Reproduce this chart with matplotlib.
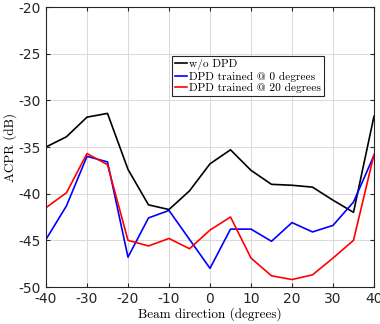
import numpy as np
import matplotlib
matplotlib.use("Agg")
import matplotlib.pyplot as plt

# beam angles in degrees
angles = [-40, -35, -30, -25, -20, -15, -10, -5, 0, 5, 10, 15, 20, 25, 30, 35, 40]

# ACPR (dB) for each configuration
acpr_no_dpd = [-35.0, -33.9, -31.8, -31.4, -37.4, -41.2, -41.7, -39.7, -36.8,
               -35.3, -37.5, -39.0, -39.1, -39.3, -40.7, -42.0, -31.7]
acpr_dpd_0 = [-44.9, -41.3, -36.0, -36.6, -46.8, -42.6, -41.8, -44.9, -48.0,
              -43.8, -43.8, -45.1, -43.1, -44.1, -43.4, -40.9, -35.9]
acpr_dpd_20 = [-41.5, -39.9, -35.7, -36.9, -45.0, -45.6, -44.8, -45.9, -43.9,
               -42.5, -46.9, -48.8, -49.2, -48.7, -46.9, -45.0, -35.8]

plt.rcParams['axes.unicode_minus'] = False
serif = ['cmr10', 'DejaVu Serif']

fig = plt.figure(figsize=(3.8, 3.24), dpi=100)
ax = fig.add_axes([46 / 380, 1 - 287 / 324, 328 / 380, 280 / 324])

ax.plot(angles, acpr_no_dpd, color='black', lw=1.2, label='w/o DPD')
ax.plot(angles, acpr_dpd_0, color='blue', lw=1.2, label='DPD trained @ 0 degrees')
ax.plot(angles, acpr_dpd_20, color='red', lw=1.2, label='DPD trained @ 20 degrees')

ax.set_xlim(-40, 40)
ax.set_ylim(-50, -20)
ax.set_xticks(np.arange(-40, 41, 10))
ax.set_yticks(np.arange(-50, -19, 5))
ax.grid(True, color='#d9d9d9', lw=0.7)
ax.set_axisbelow(True)
ax.tick_params(direction='in', top=True, right=True, length=3,
               labelsize=10, colors='#262626', labelcolor='#262626')
for s in ax.spines.values():
    s.set_color('#262626')
    s.set_linewidth(0.8)

ax.set_xlabel('Beam direction (degrees)', family=serif, fontsize=9.5, labelpad=1)
ax.set_ylabel('ACPR (dB)', family=serif, fontsize=9.5, labelpad=1)

leg = ax.legend(loc='upper left', bbox_to_anchor=(126 / 328, 1 - 49 / 280),
                prop={'family': serif, 'size': 8.2}, fancybox=False,
                framealpha=1, edgecolor='#262626', handlelength=1.1,
                handletextpad=0.15, borderpad=0.25, labelspacing=0.15,
                borderaxespad=0)
leg.get_frame().set_linewidth(0.8)

fig.savefig('out.png', dpi=100)
